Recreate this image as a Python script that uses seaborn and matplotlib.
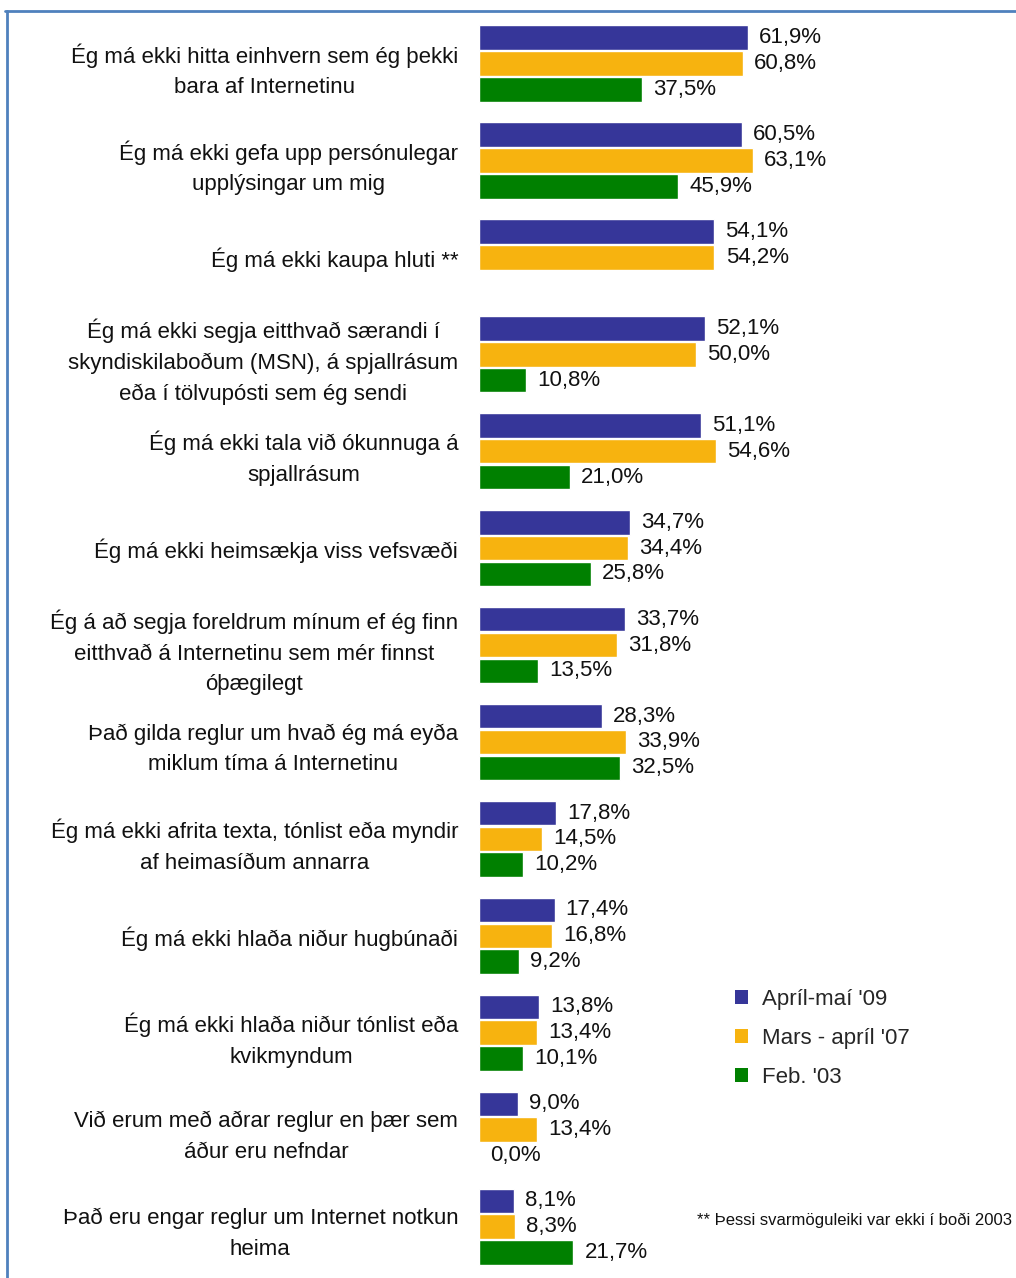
import numpy as np
import pandas as pd
import matplotlib
matplotlib.use("Agg")
import matplotlib.pyplot as plt
from matplotlib.patches import Patch
from matplotlib.lines import Line2D
import seaborn as sns

# ---------------- data ----------------
rules = [
    "Ég má ekki hitta einhvern sem ég þekki\nbara af Internetinu",
    "Ég má ekki gefa upp persónulegar\nupplýsingar um mig",
    "Ég má ekki kaupa hluti **",
    "Ég má ekki segja eitthvað særandi í\nskyndiskilaboðum (MSN), á spjallrásum\neða í tölvupósti sem ég sendi",
    "Ég má ekki tala við ókunnuga á\nspjallrásum",
    "Ég má ekki heimsækja viss vefsvæði",
    "Ég á að segja foreldrum mínum ef ég finn\neitthvað á Internetinu sem mér finnst\nóþægilegt",
    "Það gilda reglur um hvað ég má eyða\nmiklum tíma á Internetinu",
    "Ég má ekki afrita texta, tónlist eða myndir\naf heimasíðum annarra",
    "Ég má ekki hlaða niður hugbúnaði",
    "Ég má ekki hlaða niður tónlist eða\nkvikmyndum",
    "Við erum með aðrar reglur en þær sem\náður eru nefndar",
    "Það eru engar reglur um Internet notkun\nheima",
]
periods = ["Apríl-maí '09", "Mars - apríl '07", "Feb. '03"]
apr_09 = [61.9, 60.5, 54.1, 52.1, 51.1, 34.7, 33.7, 28.3, 17.8, 17.4, 13.8, 9.0, 8.1]
mar_07 = [60.8, 63.1, 54.2, 50.0, 54.6, 34.4, 31.8, 33.9, 14.5, 16.8, 13.4, 13.4, 8.3]
feb_03 = [37.5, 45.9, np.nan, 10.8, 21.0, 25.8, 13.5, 32.5, 10.2, 9.2, 10.1, 0.0, 21.7]
footnote = "** Þessi svarmöguleiki var ekki í boði 2003"

colors = ["#363699", "#f7b30f", "#008000"]

df = pd.DataFrame({"rule": rules, periods[0]: apr_09, periods[1]: mar_07, periods[2]: feb_03})
long = df.melt(id_vars="rule", var_name="period", value_name="pct").dropna()

# ---------------- plot ----------------
sns.set_style("white")
plt.rcParams['font.family'] = ['Liberation Sans', 'DejaVu Sans']

fig = plt.figure(figsize=(10.16, 12.78), dpi=100)
ax = fig.add_axes([479 / 1016, 0, 537 / 1016, 1])

sns.barplot(data=long, y="rule", x="pct", hue="period", order=rules, hue_order=periods,
            palette=colors, saturation=1, orient="h", gap=0.05, width=0.8,
            legend=False, ax=ax)

for cont in ax.containers:
    labels = []
    for bar in cont:
        w = bar.get_width()
        labels.append("" if np.isnan(w) else f"{w:.1f}%".replace(".", ","))
    ax.bar_label(cont, labels=labels, padding=8, fontsize=16, color="#111111")

ax.set_xlim(0, 123.6)
ax.set_ylim(12.53, -0.655)
ax.set_xlabel("")
ax.set_ylabel("")
ax.set_xticks([])
ax.tick_params(axis="y", length=0, pad=15, labelsize=16)
for t in ax.get_yticklabels():
    t.set_multialignment("center")
    t.set_linespacing(1.6)
    t.set_color("#111111")
sns.despine(ax=ax, left=True, bottom=True)

handles = [Patch(facecolor=c, edgecolor="none") for c in colors]
fig.legend(handles, periods, loc="upper left", bbox_to_anchor=(724 / 1016, 1 - 978 / 1278),
           frameon=False, fontsize=16, handlelength=0.6, handleheight=0.6,
           handletextpad=0.6, labelspacing=0.8, borderpad=0)

fig.text(697 / 1016, 1 - 1220 / 1278, footnote, fontsize=12, va="center", ha="left",
         color="#111111")

# frame lines
frame = "#4f81bd"
fig.add_artist(Line2D([5 / 1016, 1], [1 - 11 / 1278] * 2, transform=fig.transFigure,
                      color=frame, lw=2))
fig.add_artist(Line2D([7 / 1016] * 2, [1 - 11 / 1278, 0], transform=fig.transFigure,
                      color=frame, lw=2))

fig.savefig("out.png", dpi=100)
